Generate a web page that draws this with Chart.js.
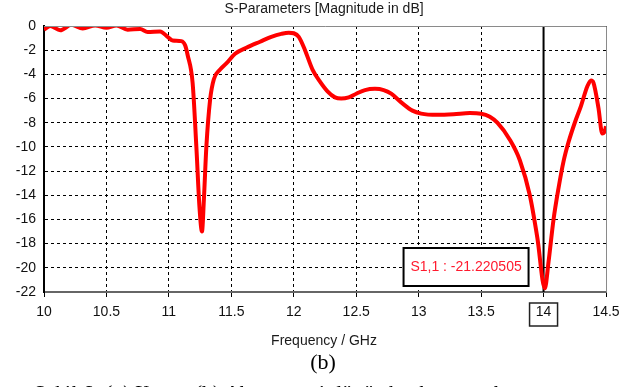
<!DOCTYPE html>
<html>
<head>
<meta charset="utf-8">
<script src="https://cdn.jsdelivr.net/npm/chart.js@4"></script>
<style>
  body { margin: 0; background: #fff; }
  canvas { display: block; }
</style>
</head>
<body>
<canvas id="myChart" width="643" height="387"></canvas>
<script>
// S11 curve
var freq = [10.00, 10.05, 10.13, 10.22, 10.31, 10.41, 10.50, 10.58, 10.67, 10.77, 10.83, 10.93, 10.99, 11.03, 11.10, 11.13,
            11.15, 11.19, 11.22, 11.245, 11.265, 11.28, 11.30, 11.33, 11.36, 11.41, 11.46, 11.53, 11.62, 11.73, 11.82,
            11.90, 11.96, 12.00, 12.04, 12.09, 12.15, 12.21, 12.27, 12.33, 12.38, 12.44, 12.50, 12.57, 12.65, 12.72,
            12.78, 12.87, 12.95, 13.02, 13.15, 13.28, 13.41, 13.50, 13.57, 13.63, 13.73, 13.81, 13.89, 13.95, 14.01,
            14.04, 14.08, 14.12, 14.16, 14.20, 14.25, 14.30, 14.35, 14.38, 14.40, 14.44, 14.47, 14.49, 14.50];
var s11 = [-0.3, 0.0, -0.35, 0.1, -0.2, 0.05, -0.15, 0.05, -0.3, -0.25, -0.5, -0.45, -0.9, -1.2, -1.25, -1.6,
           -2.4, -4.7, -10.0, -15.0, -17.0, -14.4, -10.0, -6.1, -4.4, -3.6, -3.1, -2.3, -1.8, -1.3, -0.9,
           -0.65, -0.55, -0.6, -0.9, -2.0, -3.6, -4.6, -5.4, -5.9, -6.0, -5.9, -5.6, -5.3, -5.2, -5.3,
           -5.6, -6.4, -7.0, -7.25, -7.35, -7.3, -7.2, -7.25, -7.5, -8.0, -9.4, -11.1, -14.0, -17.5, -21.7,
           -19.5, -16.0, -13.4, -11.2, -9.6, -8.0, -6.6, -5.0, -4.5, -4.7, -6.8, -8.9, -8.7, -8.3];
var xTicks = [10, 10.5, 11, 11.5, 12, 12.5, 13, 13.5, 14, 14.5];
var yTicks = [0, -2, -4, -6, -8, -10, -12, -14, -16, -18, -20, -22];
var markerFreq = 14;
var markerLabel = 'S1,1 : -21.220505';

var points = freq.map(function (f, i) { return { x: f, y: s11[i] }; });

var extras = {
    id: 'extras',
    beforeDatasetsDraw: function (chart) {
        var c = chart.ctx, a = chart.chartArea;
        var mx = chart.scales.x.getPixelForValue(markerFreq);
        c.save();
        c.strokeStyle = '#000';
        c.lineWidth = 2;
        c.beginPath();
        c.moveTo(mx, a.top);
        c.lineTo(mx, a.bottom);
        c.stroke();
        c.restore();
    },
    afterDraw: function (chart) {
        var c = chart.ctx, a = chart.chartArea;
        var mx = chart.scales.x.getPixelForValue(markerFreq);
        c.save();
        // frame top / right
        c.strokeStyle = '#8a8a8a';
        c.lineWidth = 1;
        c.beginPath();
        c.moveTo(a.left, a.top + 0.5);
        c.lineTo(a.right + 0.5, a.top + 0.5);
        c.lineTo(a.right + 0.5, a.bottom);
        c.stroke();

        // marker value box
        c.fillStyle = '#fff';
        c.fillRect(mx - 140, 248, 125, 38);
        c.strokeStyle = '#000';
        c.lineWidth = 2;
        c.strokeRect(mx - 140, 248, 125, 38);
        c.fillStyle = '#ff1a2e';
        c.font = '14px "Liberation Sans"';
        c.textAlign = 'center';
        c.textBaseline = 'middle';
        c.fillText(markerLabel, mx - 77.5, 267);

        // box round the 14 tick label
        c.lineWidth = 1.5;
        c.strokeStyle = '#222';
        c.strokeRect(mx - 14, 303, 28, 23);

        // texts
        c.fillStyle = '#1a1a1a';
        c.font = '14px "Liberation Sans"';
        c.fillText('S-Parameters [Magnitude in dB]', 324, 9);
        c.fillText('Frequency / GHz', 324, 341);
        c.fillStyle = '#000';
        c.font = '22px "Liberation Serif"';
        c.fillText('(b)', 323, 363);
        c.font = 'italic 22px "Liberation Serif"';
        c.textAlign = 'left';
        c.textBaseline = 'alphabetic';
        c.fillText('Şekil 6. (a) Yapısı (b) Alınan geri dönüş kaybı sonuçları', 33, 400);
        c.restore();
    }
};

var ctx = document.getElementById('myChart').getContext('2d');
var myChart = new Chart(ctx, {
    type: 'line',
    data: {
        datasets: [{
            label: 'S1,1',
            data: points,
            borderColor: '#ff0000',
            borderWidth: 4,
            pointRadius: 0,
            cubicInterpolationMode: 'monotone',
            fill: false
        }]
    },
    options: {
        responsive: false,
        animation: false,
        layout: { padding: { top: 26, right: 37, left: 0, bottom: 0 } },
        plugins: {
            legend: { display: false },
            tooltip: { enabled: false }
        },
        scales: {
            x: {
                type: 'linear',
                min: 10,
                max: 14.5,
                afterFit: function (s) { s.height = 95; },
                afterBuildTicks: function (s) { s.ticks = xTicks.map(function (v) { return { value: v }; }); },
                ticks: {
                    color: '#111',
                    font: { family: 'Liberation Sans', size: 14 },
                    padding: 7,
                    maxRotation: 0,
                    callback: function (v) { return String(v); }
                },
                grid: { color: '#000', lineWidth: 1, tickLength: 5 },
                border: { color: '#666', width: 2, dash: [3, 3] }
            },
            y: {
                min: -22,
                max: 0,
                afterFit: function (s) { s.width = 44; },
                afterBuildTicks: function (s) { s.ticks = yTicks.map(function (v) { return { value: v }; }); },
                ticks: {
                    color: '#111',
                    font: { family: 'Liberation Sans', size: 14 },
                    padding: 8,
                    callback: function (v) { return String(v); }
                },
                grid: { color: '#000', lineWidth: 1, drawTicks: false },
                border: { color: '#000', width: 2, dash: [3, 3] }
            }
        }
    },
    plugins: [extras]
});
</script>
</body>
</html>
